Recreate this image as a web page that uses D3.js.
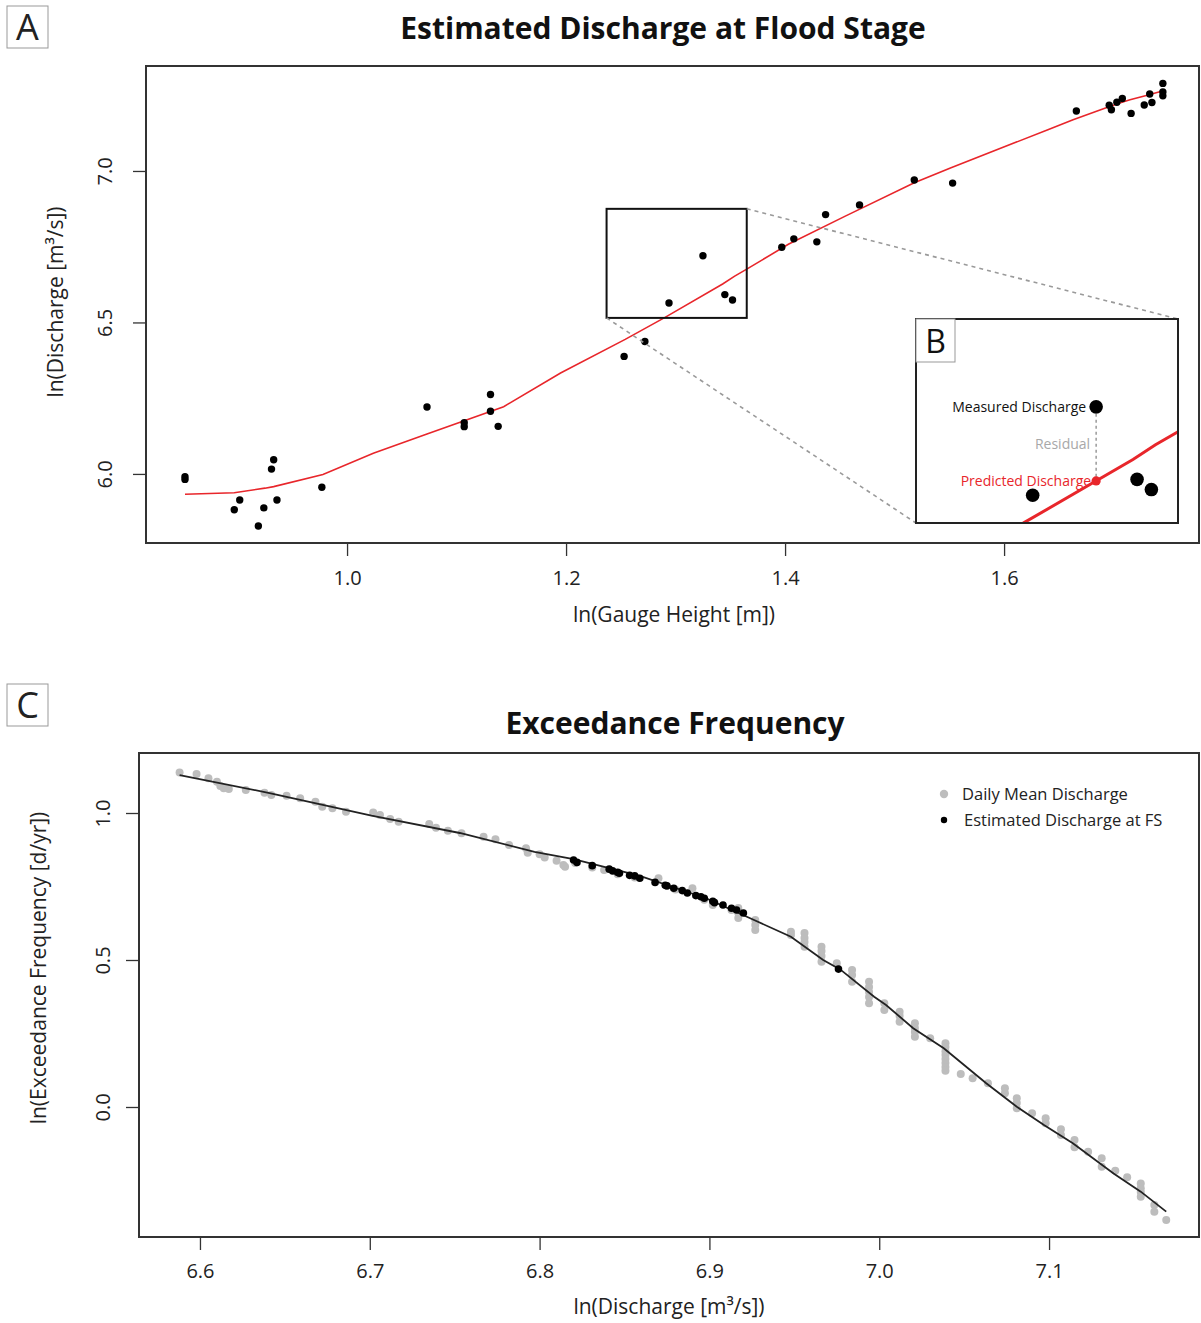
<!DOCTYPE html>
<html lang="en">
<head>
<meta charset="UTF-8">
<title>Estimated Discharge at Flood Stage</title>
<script src="https://cdn.jsdelivr.net/npm/d3@7"></script>
<style>
    body{margin:0;background:#fff;}
    text{font-family:"Open Sans",sans-serif;}
</style>
</head>
<body>
<svg id="fig" width="1201" height="1323"></svg>
<script>
// ---- panel A : measured gauge height / discharge pairs
var gaugeHeight=[0.852,0.852,0.897,0.902,0.919,0.924,0.933,0.931,0.936,0.977,1.073,1.107,1.107,1.131,1.131,1.138,
    1.253,1.272,1.294,1.325,1.345,1.352,1.397,1.408,1.429,1.437,1.468,1.518,1.553,
    1.666,1.696,1.698,1.703,1.708,1.716,1.728,1.733,1.735,1.745,1.745,1.745];
var discharge=[5.991,5.982,5.882,5.914,5.828,5.888,6.047,6.016,5.914,5.956,6.221,6.169,6.156,6.262,6.207,6.157,
    6.388,6.437,6.564,6.720,6.592,6.574,6.748,6.776,6.766,6.856,6.888,6.970,6.960,
    7.198,7.217,7.202,7.227,7.239,7.190,7.218,7.254,7.226,7.289,7.261,7.248];
// fitted rating curve
var curveHeight=[0.852,0.897,0.925,0.933,0.978,1.024,1.073,1.143,1.195,1.254,1.290,1.343,1.354,1.365,1.403,1.455,
    1.518,1.551,1.640,1.663,1.692,1.707,1.715,1.729,1.743];
var curveDischarge=[5.933,5.938,5.953,5.958,5.998,6.068,6.132,6.222,6.333,6.444,6.516,6.627,6.653,6.676,6.758,6.851,
    6.961,7.010,7.136,7.169,7.207,7.226,7.235,7.248,7.262];
// zoomed window shown in inset B
var zoomHeight=[1.237,1.365];
var zoomDischarge=[6.515,6.875];
var residualIndex=19;
var ticksAx=[1.0,1.2,1.4,1.6];
var ticksAy=[6.0,6.5,7.0];

// ---- panel C : exceedance frequency
var dailyQ=[6.588,6.598,6.605,6.610,6.612,6.614,6.617,6.627,6.638,6.642,6.651,6.659,6.668,6.672,6.678,6.686,
    6.702,6.706,6.712,6.717,6.735,6.739,6.746,6.754,6.767,6.774,6.782,6.792,6.793,6.800,6.803,6.810,6.814,6.815,
    6.821,6.831,6.838,6.846,6.856,6.870,6.880,6.890,6.897,6.902,6.913,6.917,6.917,6.917,6.927,6.927,6.927,
    6.948,6.948,6.956,6.956,6.956,6.956,6.966,6.966,6.966,6.966,6.975,6.984,6.984,6.984,
    6.994,6.994,6.994,6.994,6.994,7.003,7.003,7.012,7.012,7.012,7.021,7.021,7.021,7.021,7.030,
    7.039,7.039,7.039,7.039,7.039,7.039,7.039,7.039,7.048,7.055,7.064,7.074,7.074,7.081,7.081,7.081,
    7.090,7.098,7.098,7.107,7.107,7.115,7.115,7.123,7.131,7.131,7.139,7.146,7.154,7.154,7.154,7.154,
    7.162,7.162,7.169];
var dailyExc=[1.138,1.133,1.118,1.106,1.092,1.084,1.082,1.078,1.069,1.061,1.059,1.050,1.038,1.021,1.016,1.004,
    1.002,0.993,0.980,0.970,0.963,0.950,0.940,0.931,0.919,0.911,0.891,0.880,0.865,0.860,0.849,0.838,0.823,0.817,
    0.830,0.815,0.806,0.792,0.781,0.778,0.740,0.744,0.705,0.687,0.670,0.677,0.660,0.643,0.636,0.619,0.602,
    0.596,0.585,0.592,0.575,0.561,0.545,0.545,0.531,0.514,0.494,0.489,0.466,0.449,0.426,
    0.426,0.408,0.391,0.374,0.353,0.353,0.330,0.324,0.310,0.290,0.285,0.269,0.255,0.239,0.234,
    0.217,0.204,0.190,0.177,0.163,0.150,0.136,0.123,0.112,0.098,0.081,0.064,0.047,0.030,0.014,-0.004,
    -0.021,-0.038,-0.055,-0.076,-0.095,-0.112,-0.137,-0.152,-0.174,-0.203,-0.217,-0.239,-0.260,-0.276,-0.289,-0.305,
    -0.333,-0.356,-0.384];
var fsQ=[6.820,6.822,6.831,6.841,6.843,6.846,6.847,6.853,6.856,6.859,6.868,6.874,6.875,6.879,6.884,6.887,
    6.892,6.895,6.897,6.902,6.903,6.908,6.913,6.916,6.920,6.976];
var fsExc=[0.840,0.832,0.821,0.809,0.803,0.798,0.795,0.788,0.786,0.778,0.764,0.754,0.752,0.744,0.736,0.728,
    0.719,0.715,0.710,0.700,0.695,0.687,0.676,0.670,0.660,0.469];
var fitQ=[6.588,6.641,6.701,6.753,6.797,6.820,6.859,6.898,6.924,6.948,6.967,6.977,6.997,7.004,7.020,7.038,
    7.063,7.081,7.097,7.114,7.138,7.154,7.169];
var fitExc=[1.129,1.068,0.991,0.932,0.868,0.843,0.786,0.710,0.642,0.579,0.500,0.468,0.375,0.347,0.268,0.200,
    0.081,0.001,-0.061,-0.123,-0.226,-0.288,-0.356];
var ticksCx=[6.6,6.7,6.8,6.9,7.0,7.1];
var ticksCy=[0.0,0.5,1.0];
var legendLabels=['Daily Mean Discharge','Estimated Discharge at FS'];

// ---- layout
var A={left:146,right:1199,top:66,bottom:543};
var C={left:139,right:1199,top:753,bottom:1237};
var inset={left:916,right:1178,top:319,bottom:523};
var red='#e8262b', grey='#bdbdbd', ink='#222';

var svg=d3.select('#fig');

var xA=d3.scaleLinear().domain([0.8164,1.778]).range([A.left,A.right]);
var yA=d3.scaleLinear().domain([5.772,7.3465]).range([A.bottom,A.top]);
var xC=d3.scaleLinear().domain([6.5641,7.1883]).range([C.left,C.right]);
var yC=d3.scaleLinear().domain([-0.4422,1.2041]).range([C.bottom,C.top]);
var xB=d3.scaleLinear().domain(zoomHeight).range([inset.left,inset.right]);
var yB=d3.scaleLinear().domain(zoomDischarge).range([inset.bottom,inset.top]);

function axes(p,x,y,xt,yt,xoff,yoff){
    var gx=svg.append('g')
        .attr('transform','translate(0,'+p.bottom+')')
        .call(d3.axisBottom(x).tickValues(xt).tickSize(13).tickFormat(d3.format('.1f')));
    gx.select('.domain').remove();
    gx.selectAll('.tick line').attr('stroke','#333').attr('stroke-width',1.3);
    gx.selectAll('.tick text')
        .attr('font-size',20).attr('font-family','"Open Sans",sans-serif')
        .attr('fill',ink).attr('y',xoff).attr('dy','0.35em');

    var gy=svg.append('g')
        .attr('transform','translate('+p.left+',0)')
        .call(d3.axisLeft(y).tickValues(yt).tickSize(13).tickFormat(d3.format('.1f')));
    gy.select('.domain').remove();
    gy.selectAll('.tick line').attr('stroke','#333').attr('stroke-width',1.3);
    gy.selectAll('.tick text')
        .attr('font-size',20).attr('font-family','"Open Sans",sans-serif')
        .attr('fill',ink)
        .attr('x',0).attr('y',-yoff).attr('dy','0.35em')
        .attr('text-anchor','middle')
        .attr('transform','rotate(-90)');
}

function frame(p){
    svg.append('rect')
        .attr('x',p.left).attr('y',p.top)
        .attr('width',p.right-p.left).attr('height',p.bottom-p.top)
        .attr('fill','none').attr('stroke','#333').attr('stroke-width',2);
}

function panelTag(label,x,y){
    svg.append('rect').attr('x',x).attr('y',y).attr('width',41).attr('height',42)
        .attr('fill','#fff').attr('stroke','#999').attr('stroke-width',1);
    svg.append('text').attr('x',x+20.5).attr('y',y+21).attr('dy','0.36em')
        .attr('text-anchor','middle').attr('font-size',36).attr('fill',ink).text(label);
}

function title(txt,x,y){
    svg.append('text').attr('x',x).attr('y',y).attr('dy','0.36em')
        .attr('text-anchor','middle').attr('font-size',30).attr('font-weight','bold')
        .attr('fill','#111').text(txt);
}

function axisTitle(txt,x,y,rot){
    svg.append('text')
        .attr('transform','translate('+x+','+y+')'+(rot?' rotate(-90)':''))
        .attr('dy','0.36em').attr('text-anchor','middle')
        .attr('font-size',21).attr('fill',ink).text(txt);
}

// ===================== panel A
var pts=gaugeHeight.map(function(h,i){return {x:h,y:discharge[i]};});
var curve=curveHeight.map(function(h,i){return {x:h,y:curveDischarge[i]};});

svg.append('defs').append('clipPath').attr('id','clipA').append('rect')
    .attr('x',A.left).attr('y',A.top).attr('width',A.right-A.left).attr('height',A.bottom-A.top);

var plotA=svg.append('g').attr('clip-path','url(#clipA)');
plotA.append('path')
    .datum(curve)
    .attr('fill','none').attr('stroke',red).attr('stroke-width',1.6)
    .attr('d',d3.line().x(d=>xA(d.x)).y(d=>yA(d.y)));
plotA.selectAll('circle').data(pts).enter().append('circle')
    .attr('cx',d=>xA(d.x)).attr('cy',d=>yA(d.y)).attr('r',3.7).attr('fill','#000');

// zoom window and connectors
plotA.append('rect')
    .attr('x',xA(zoomHeight[0])).attr('y',yA(zoomDischarge[1]))
    .attr('width',xA(zoomHeight[1])-xA(zoomHeight[0]))
    .attr('height',yA(zoomDischarge[0])-yA(zoomDischarge[1]))
    .attr('fill','none').attr('stroke','#111').attr('stroke-width',2);
var conn=[[xA(zoomHeight[1]),yA(zoomDischarge[1]),inset.right,inset.top],
          [xA(zoomHeight[0]),yA(zoomDischarge[0]),inset.left,inset.bottom]];
svg.selectAll('line.conn').data(conn).enter().append('line').attr('class','conn')
    .attr('x1',d=>d[0]).attr('y1',d=>d[1]).attr('x2',d=>d[2]).attr('y2',d=>d[3])
    .attr('stroke','#9a9a9a').attr('stroke-width',1.6).attr('stroke-dasharray','4,4');

// inset B: magnified copy of the zoom window
svg.append('rect')
    .attr('x',inset.left).attr('y',inset.top)
    .attr('width',inset.right-inset.left).attr('height',inset.bottom-inset.top)
    .attr('fill','#fff');
svg.select('defs').append('clipPath').attr('id','clipB').append('rect')
    .attr('x',inset.left).attr('y',inset.top)
    .attr('width',inset.right-inset.left).attr('height',inset.bottom-inset.top);
var plotB=svg.append('g').attr('clip-path','url(#clipB)');
plotB.append('path')
    .datum(curve)
    .attr('fill','none').attr('stroke',red).attr('stroke-width',3)
    .attr('d',d3.line().x(d=>xB(d.x)).y(d=>yB(d.y)));
plotB.selectAll('circle').data(pts).enter().append('circle')
    .attr('cx',d=>xB(d.x)).attr('cy',d=>yB(d.y)).attr('r',6.8).attr('fill','#000');

// residual annotation
var mx=gaugeHeight[residualIndex], my=discharge[residualIndex];
var k=d3.bisectRight(curveHeight,mx);
var t=(mx-curveHeight[k-1])/(curveHeight[k]-curveHeight[k-1]);
var py=curveDischarge[k-1]+t*(curveDischarge[k]-curveDischarge[k-1]);
plotB.append('line')
    .attr('x1',xB(mx)).attr('x2',xB(mx)).attr('y1',yB(my)+7).attr('y2',yB(py))
    .attr('stroke','#8a8a8a').attr('stroke-width',1.3).attr('stroke-dasharray','3,3');
plotB.append('circle').attr('cx',xB(mx)).attr('cy',yB(py)).attr('r',4.6).attr('fill',red);
var notes=[{t:'Measured Discharge',y:my,c:'#111',dx:-10},
           {t:'Residual',y:(my+py)/2,c:'#a8a8a8',dx:-6},
           {t:'Predicted Discharge',y:py,c:red,dx:-5}];
plotB.selectAll('text').data(notes).enter().append('text')
    .attr('x',d=>xB(mx)+d.dx).attr('y',d=>yB(d.y)).attr('dy','0.36em')
    .attr('text-anchor','end').attr('font-size',14).attr('fill',d=>d.c).text(d=>d.t);

svg.append('rect')
    .attr('x',inset.left).attr('y',inset.top)
    .attr('width',inset.right-inset.left).attr('height',inset.bottom-inset.top)
    .attr('fill','none').attr('stroke','#222').attr('stroke-width',2);
svg.append('rect').attr('x',inset.left).attr('y',inset.top).attr('width',39).attr('height',43)
    .attr('fill','#fff').attr('stroke','#999').attr('stroke-width',1);
svg.append('text').attr('x',inset.left+19.5).attr('y',inset.top+22).attr('dy','0.36em')
    .attr('text-anchor','middle').attr('font-size',32).attr('fill','#111').text('B');

frame(A);
axes(A,xA,yA,ticksAx,ticksAy,35,41);
title('Estimated Discharge at Flood Stage',663,28);
axisTitle('ln(Gauge Height [m])',674,614,false);
axisTitle('ln(Discharge [m\u00b3/s])',55,302,true);
panelTag('A',7,6);

// ===================== panel C
var daily=dailyQ.map(function(q,i){return {x:q,y:dailyExc[i]};});
var fs=fsQ.map(function(q,i){return {x:q,y:fsExc[i]};});
var fit=fitQ.map(function(q,i){return {x:q,y:fitExc[i]};});

var plotC=svg.append('g');
plotC.selectAll('circle.daily').data(daily).enter().append('circle').attr('class','daily')
    .attr('cx',d=>xC(d.x)).attr('cy',d=>yC(d.y)).attr('r',4).attr('fill',grey);
plotC.append('path')
    .datum(fit)
    .attr('fill','none').attr('stroke',ink).attr('stroke-width',1.8)
    .attr('d',d3.line().x(d=>xC(d.x)).y(d=>yC(d.y)));
plotC.selectAll('circle.fs').data(fs).enter().append('circle').attr('class','fs')
    .attr('cx',d=>xC(d.x)).attr('cy',d=>yC(d.y)).attr('r',3.8).attr('fill','#000');

var legend=svg.append('g').attr('transform','translate(944,794)');
legend.selectAll('circle').data(legendLabels).enter().append('circle')
    .attr('cx',0).attr('cy',(d,i)=>i*26).attr('r',(d,i)=>i?3.2:4.2)
    .attr('fill',(d,i)=>i?'#000':grey);
legend.selectAll('text').data(legendLabels).enter().append('text')
    .attr('x',(d,i)=>18+i*2).attr('y',(d,i)=>i*26).attr('dy','0.36em')
    .attr('font-size',16.5).attr('fill',ink).text(d=>d);

frame(C);
axes(C,xC,yC,ticksCx,ticksCy,34,36);
title('Exceedance Frequency',675,723);
axisTitle('ln(Discharge [m\u00b3/s])',669,1306,false);
axisTitle('ln(Exceedance Frequency [d/yr])',38,968,true);
panelTag('C',7,684);
</script>
</body>
</html>
